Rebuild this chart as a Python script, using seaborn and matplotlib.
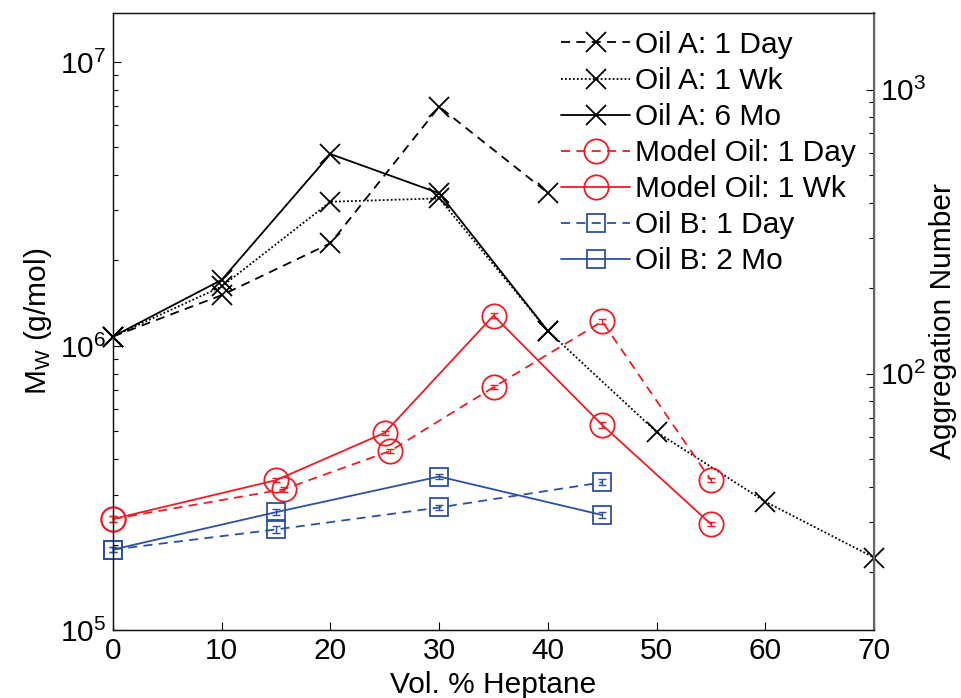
import numpy as np
import pandas as pd
import matplotlib
matplotlib.use("Agg")
import matplotlib.pyplot as plt
import seaborn as sns
from matplotlib.ticker import LogLocator, NullFormatter

# ---------------- data ----------------
oilA_1day_x = [0, 10, 20, 30, 40]
oilA_1day_y = [1.08e6, 1.51e6, 2.30e6, 6.96e6, 3.46e6]

oilA_1wk_x = [0, 10, 20, 30, 40, 50, 60, 70]
oilA_1wk_y = [1.08e6, 1.62e6, 3.22e6, 3.31e6, 1.13e6, 4.98e5, 2.83e5, 1.80e5]

oilA_6mo_x = [0, 10, 20, 30, 40]
oilA_6mo_y = [1.08e6, 1.71e6, 4.74e6, 3.45e6, 1.13e6]

model_1day_x = [0, 15.7, 25.5, 35, 45, 55]
model_1day_y = [2.46e5, 3.13e5, 4.27e5, 7.16e5, 1.22e6, 3.37e5]
model_1day_err = [5e3, 6e3, 8e3, 1.2e4, 2.0e4, 6e3]

model_1wk_x = [0, 15, 25, 35, 45, 55]
model_1wk_y = [2.46e5, 3.37e5, 4.95e5, 1.28e6, 5.27e5, 2.36e5]
model_1wk_err = [5e3, 6e3, 8e3, 2.5e4, 1.2e4, 4e3]

oilB_1day_x = [0, 15, 30, 45]
oilB_1day_y = [1.92e5, 2.26e5, 2.70e5, 3.31e5]
oilB_1day_err = [4e3, 6e3, 6e3, 8e3]

oilB_2mo_x = [0, 15, 30, 45]
oilB_2mo_y = [1.92e5, 2.60e5, 3.47e5, 2.54e5]
oilB_2mo_err = [4e3, 6e3, 8e3, 7e3]

monomer_mw = 8000.0  # Mw / aggregation number

x_ticks = [0, 10, 20, 30, 40, 50, 60, 70]

# ---------------- style ----------------
sns.set_style("white")
plt.rcParams["font.family"] = ["Liberation Sans", "DejaVu Sans"]
plt.rcParams["mathtext.fontset"] = "custom"
plt.rcParams["mathtext.rm"] = "Liberation Sans"
plt.rcParams["mathtext.it"] = "Liberation Sans"
plt.rcParams["text.color"] = "black"
plt.rcParams["axes.labelcolor"] = "black"
plt.rcParams["xtick.color"] = "black"
plt.rcParams["ytick.color"] = "black"
FS = 21.5

BLACK = "#000000"
RED = "#ee1c24"
BLUE = "#2f4fa2"

fig = plt.figure(figsize=(9.61, 6.98), dpi=100)
ax = fig.add_axes([0.1176, 0.0974, 0.9095 - 0.1176, 0.9814 - 0.0974])

series = [
    ("Oil A: 1 Day", oilA_1day_x, oilA_1day_y, None, BLACK, (0, (5, 3.5)), "x", 14),
    ("Oil A: 1 Wk", oilA_1wk_x, oilA_1wk_y, None, BLACK, (0, (1, 1.2)), "x", 14),
    ("Oil A: 6 Mo", oilA_6mo_x, oilA_6mo_y, None, BLACK, "-", "x", 14),
    ("Model Oil: 1 Day", model_1day_x, model_1day_y, model_1day_err, RED, (0, (5, 3.5)), "o", 17.5),
    ("Model Oil: 1 Wk", model_1wk_x, model_1wk_y, model_1wk_err, RED, "-", "o", 17.5),
    ("Oil B: 1 Day", oilB_1day_x, oilB_1day_y, oilB_1day_err, BLUE, (0, (5, 3.5)), "s", 13.5),
    ("Oil B: 2 Mo", oilB_2mo_x, oilB_2mo_y, oilB_2mo_err, BLUE, "-", "s", 13.5),
]

for label, xs, ys, errs, col, ls, mk, ms in series:
    df = pd.DataFrame({"x": xs, "y": ys})
    sns.lineplot(data=df, x="x", y="y", ax=ax, color=col, linestyle=ls,
                 marker=mk, markersize=ms, mfc="none", mec=col, mew=1.3,
                 lw=1.3, label=label, sort=False, clip_on=False, zorder=3)
    if errs is not None:
        ax.errorbar(xs, ys, yerr=errs, fmt="none", ecolor=col, elinewidth=1.0,
                    capsize=3, capthick=1.0, clip_on=False)

ax.set_yscale("log")
ax.set_xlim(0, 70)
ax.set_ylim(1e5, 10 ** 7.1725)
ax.set_xticks(x_ticks)
ax.set_xticklabels([str(t) for t in x_ticks])
ax.yaxis.set_major_locator(LogLocator(base=10, numticks=10))
ax.yaxis.set_minor_locator(LogLocator(base=10, subs=np.arange(2, 10), numticks=20))
ax.yaxis.set_minor_formatter(NullFormatter())
ax.tick_params(axis="both", which="major", direction="in", length=6, width=0.8,
               labelsize=FS, left=True, bottom=True, top=False, right=False, pad=5)
ax.tick_params(axis="y", which="minor", direction="in", length=3.5, width=0.8,
               left=True, right=False)
ax.set_xlabel("Vol. % Heptane", fontsize=FS, labelpad=4)
ax.set_ylabel(r"M$_{\mathrm{W}}$ (g/mol)", fontsize=FS, labelpad=4)
for s in ax.spines.values():
    s.set_linewidth(0.9)
    s.set_color("#111111")

ax2 = ax.twinx()
ax2.set_yscale("log")
lo, hi = ax.get_ylim()
ax2.set_ylim(lo / monomer_mw, hi / monomer_mw)
ax2.yaxis.set_major_locator(LogLocator(base=10, numticks=10))
ax2.yaxis.set_minor_locator(LogLocator(base=10, subs=np.arange(2, 10), numticks=20))
ax2.yaxis.set_minor_formatter(NullFormatter())
ax2.tick_params(axis="y", which="major", direction="in", length=6, width=0.8,
                labelsize=FS, right=True, pad=4)
ax2.tick_params(axis="y", which="minor", direction="in", length=3.5, width=0.8, right=True)
ax2.set_ylabel("Aggregation Number", fontsize=FS, labelpad=2)
for s in ax2.spines.values():
    s.set_linewidth(0.9)
    s.set_color("#111111")
ax2.spines["right"].set_color("#666666")
ax2.spines["right"].set_linewidth(1.5)

leg = ax.legend(loc="upper right", bbox_to_anchor=(1.0, 1.0), frameon=False,
                fontsize=FS, handlelength=2.3, handletextpad=0.17,
                labelspacing=0.27, borderaxespad=0.2)

fig.savefig("out.png", dpi=100)
